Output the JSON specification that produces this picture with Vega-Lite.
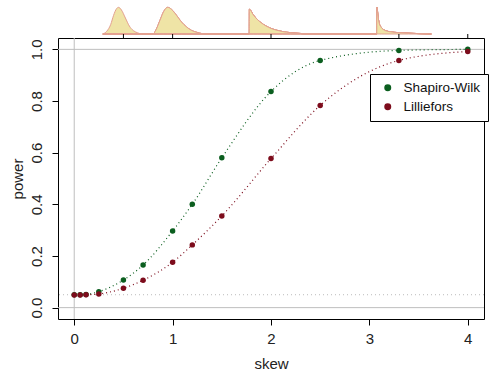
{
  "$schema": "https://vega.github.io/schema/vega-lite/v6.json",
  "padding": {"left": 9, "top": 5, "right": 5, "bottom": 5},
  "background": "white",
  "config": {
    "font": "Liberation Sans",
    "view": {"stroke": "black", "strokeWidth": 1},
    "axis": {"labelFont": "Liberation Sans", "titleFont": "Liberation Sans", "labelColor": "#222", "titleColor": "#222", "tickColor": "black", "grid": false, "domain": false}
  },
  "datasets": {
    "pw": [
      {"skew": 0, "test": "Shapiro-Wilk", "power": 0.05},
      {"skew": 0.06, "test": "Shapiro-Wilk", "power": 0.05},
      {"skew": 0.12, "test": "Shapiro-Wilk", "power": 0.051},
      {"skew": 0.25, "test": "Shapiro-Wilk", "power": 0.062},
      {"skew": 0.5, "test": "Shapiro-Wilk", "power": 0.107},
      {"skew": 0.7, "test": "Shapiro-Wilk", "power": 0.165},
      {"skew": 1.0, "test": "Shapiro-Wilk", "power": 0.297},
      {"skew": 1.2, "test": "Shapiro-Wilk", "power": 0.4},
      {"skew": 1.5, "test": "Shapiro-Wilk", "power": 0.58},
      {"skew": 2.0, "test": "Shapiro-Wilk", "power": 0.837},
      {"skew": 2.5, "test": "Shapiro-Wilk", "power": 0.957},
      {"skew": 3.3, "test": "Shapiro-Wilk", "power": 0.996},
      {"skew": 4.0, "test": "Shapiro-Wilk", "power": 1.0},
      {"skew": 0, "test": "Lilliefors", "power": 0.049},
      {"skew": 0.06, "test": "Lilliefors", "power": 0.049},
      {"skew": 0.12, "test": "Lilliefors", "power": 0.05},
      {"skew": 0.25, "test": "Lilliefors", "power": 0.053},
      {"skew": 0.5, "test": "Lilliefors", "power": 0.075},
      {"skew": 0.7, "test": "Lilliefors", "power": 0.106},
      {"skew": 1.0, "test": "Lilliefors", "power": 0.176},
      {"skew": 1.2, "test": "Lilliefors", "power": 0.243},
      {"skew": 1.5, "test": "Lilliefors", "power": 0.355},
      {"skew": 2.0, "test": "Lilliefors", "power": 0.577},
      {"skew": 2.5, "test": "Lilliefors", "power": 0.783},
      {"skew": 3.3, "test": "Lilliefors", "power": 0.957},
      {"skew": 4.0, "test": "Lilliefors", "power": 0.992}
    ],
    "dens": [
      {"g": 1, "x": 0.29, "h": 0}, {"g": 1, "x": 0.33, "h": 0.1}, {"g": 1, "x": 0.37, "h": 0.35}, {"g": 1, "x": 0.40, "h": 0.7}, {"g": 1, "x": 0.43, "h": 0.95}, {"g": 1, "x": 0.45, "h": 1.0}, {"g": 1, "x": 0.48, "h": 0.9}, {"g": 1, "x": 0.52, "h": 0.6}, {"g": 1, "x": 0.56, "h": 0.3}, {"g": 1, "x": 0.60, "h": 0.13}, {"g": 1, "x": 0.64, "h": 0.05}, {"g": 1, "x": 0.69, "h": 0},
      {"g": 2, "x": 0.80, "h": 0}, {"g": 2, "x": 0.83, "h": 0.15}, {"g": 2, "x": 0.87, "h": 0.5}, {"g": 2, "x": 0.91, "h": 0.85}, {"g": 2, "x": 0.95, "h": 1.0}, {"g": 2, "x": 0.99, "h": 0.92}, {"g": 2, "x": 1.04, "h": 0.7}, {"g": 2, "x": 1.09, "h": 0.45}, {"g": 2, "x": 1.14, "h": 0.27}, {"g": 2, "x": 1.19, "h": 0.14}, {"g": 2, "x": 1.25, "h": 0.06}, {"g": 2, "x": 1.34, "h": 0},
      {"g": 3, "x": 1.779, "h": 0}, {"g": 3, "x": 1.78, "h": 0.93}, {"g": 3, "x": 1.82, "h": 0.72}, {"g": 3, "x": 1.86, "h": 0.55}, {"g": 3, "x": 1.90, "h": 0.42}, {"g": 3, "x": 1.95, "h": 0.3}, {"g": 3, "x": 2.0, "h": 0.21}, {"g": 3, "x": 2.06, "h": 0.14}, {"g": 3, "x": 2.12, "h": 0.09}, {"g": 3, "x": 2.2, "h": 0.05}, {"g": 3, "x": 2.3, "h": 0.02}, {"g": 3, "x": 2.34, "h": 0},
      {"g": 4, "x": 3.075, "h": 0}, {"g": 4, "x": 3.076, "h": 1.0}, {"g": 4, "x": 3.09, "h": 0.6}, {"g": 4, "x": 3.10, "h": 0.4}, {"g": 4, "x": 3.12, "h": 0.25}, {"g": 4, "x": 3.15, "h": 0.15}, {"g": 4, "x": 3.2, "h": 0.09}, {"g": 4, "x": 3.3, "h": 0.05}, {"g": 4, "x": 3.4, "h": 0.03}, {"g": 4, "x": 3.5, "h": 0.015}, {"g": 4, "x": 3.63, "h": 0}
    ],
    "topticks": [{"x": 0.5}, {"x": 1}, {"x": 2}, {"x": 3.3}, {"x": 4}]
  },
  "vconcat": [
    {
      "width": 426, "height": 32,
      "view": {"stroke": null},
      "encoding": {
        "x": {"field": "x", "type": "quantitative", "scale": {"domain": [-0.165, 4.165], "nice": false, "zero": false}, "axis": null}
      },
      "layer": [
        {
          "data": {"name": "dens"},
          "mark": {"type": "area", "fill": "#efe4a6", "stroke": "#e3a090", "strokeWidth": 1, "interpolate": "monotone"},
          "encoding": {
            "y": {"field": "h", "type": "quantitative", "scale": {"domain": [-0.15, 1.05], "nice": false, "zero": false}, "axis": null},
            "detail": {"field": "g"}
          }
        },
        {
          "data": {"name": "topticks"},
          "mark": {"type": "rule", "color": "black", "strokeWidth": 1},
          "encoding": {
            "y": {"datum": -0.15, "type": "quantitative"},
            "y2": {"datum": 0.0}
          }
        }
      ]
    },
    {
      "width": 426, "height": 281,
      "layer": [
        {
          "data": {"values": [{}]},
          "mark": {"type": "rule", "color": "#bebebe"},
          "encoding": {"y": {"datum": 0, "type": "quantitative"}}
        },
        {
          "data": {"values": [{}]},
          "mark": {"type": "rule", "color": "#bebebe"},
          "encoding": {"y": {"datum": 1, "type": "quantitative"}}
        },
        {
          "data": {"values": [{}]},
          "mark": {"type": "rule", "color": "#bebebe"},
          "encoding": {"x": {"datum": 0, "type": "quantitative"}}
        },
        {
          "data": {"values": [{}]},
          "mark": {"type": "rule", "color": "#bbbbbb", "strokeDash": [1, 3]},
          "encoding": {"y": {"datum": 0.05, "type": "quantitative"}}
        },
        {
          "data": {"name": "pw"},
          "mark": {"type": "line", "strokeDash": [1, 3], "strokeWidth": 1.2, "interpolate": "monotone"},
          "encoding": {
            "x": {"field": "skew", "type": "quantitative", "scale": {"domain": [-0.165, 4.165], "nice": false, "zero": false}, "axis": {"orient": "bottom", "values": [0, 1, 2, 3, 4], "format": "d", "title": "skew", "labelFontSize": 15, "titleFontSize": 15, "titleFontWeight": "normal", "tickSize": 6, "labelPadding": 6, "titlePadding": 10}},
            "y": {"field": "power", "type": "quantitative", "scale": {"domain": [-0.044, 1.044], "nice": false, "zero": false}, "axis": {"orient": "left", "values": [0, 0.2, 0.4, 0.6, 0.8, 1.0], "format": ".1f", "title": "power", "labelAngle": -90, "labelAlign": "center", "labelBaseline": "bottom", "labelFontSize": 15, "titleFontSize": 15, "titleFontWeight": "normal", "tickSize": 6, "labelPadding": 8, "titlePadding": 4}},
            "color": {"field": "test", "type": "nominal", "scale": {"domain": ["Shapiro-Wilk", "Lilliefors"], "range": ["#0b5e1f", "#7d0c1c"]},
              "legend": {"orient": "none", "legendX": 312, "legendY": 68, "title": null, "strokeColor": "black", "fillColor": "white", "padding": 7, "labelFontSize": 13.5, "labelFont": "Liberation Sans", "labelColor": "#111", "symbolSize": 30, "symbolType": "circle", "rowPadding": 4, "labelOffset": 9, "symbolOffset": 4}}
          }
        },
        {
          "data": {"name": "pw"},
          "mark": {"type": "point", "filled": true, "opacity": 1, "size": 30, "shape": "circle"},
          "encoding": {
            "x": {"field": "skew", "type": "quantitative"},
            "y": {"field": "power", "type": "quantitative"},
            "color": {"field": "test", "type": "nominal"}
          }
        }
      ]
    }
  ],
  "spacing": 0,
  "bounds": "flush"
}
